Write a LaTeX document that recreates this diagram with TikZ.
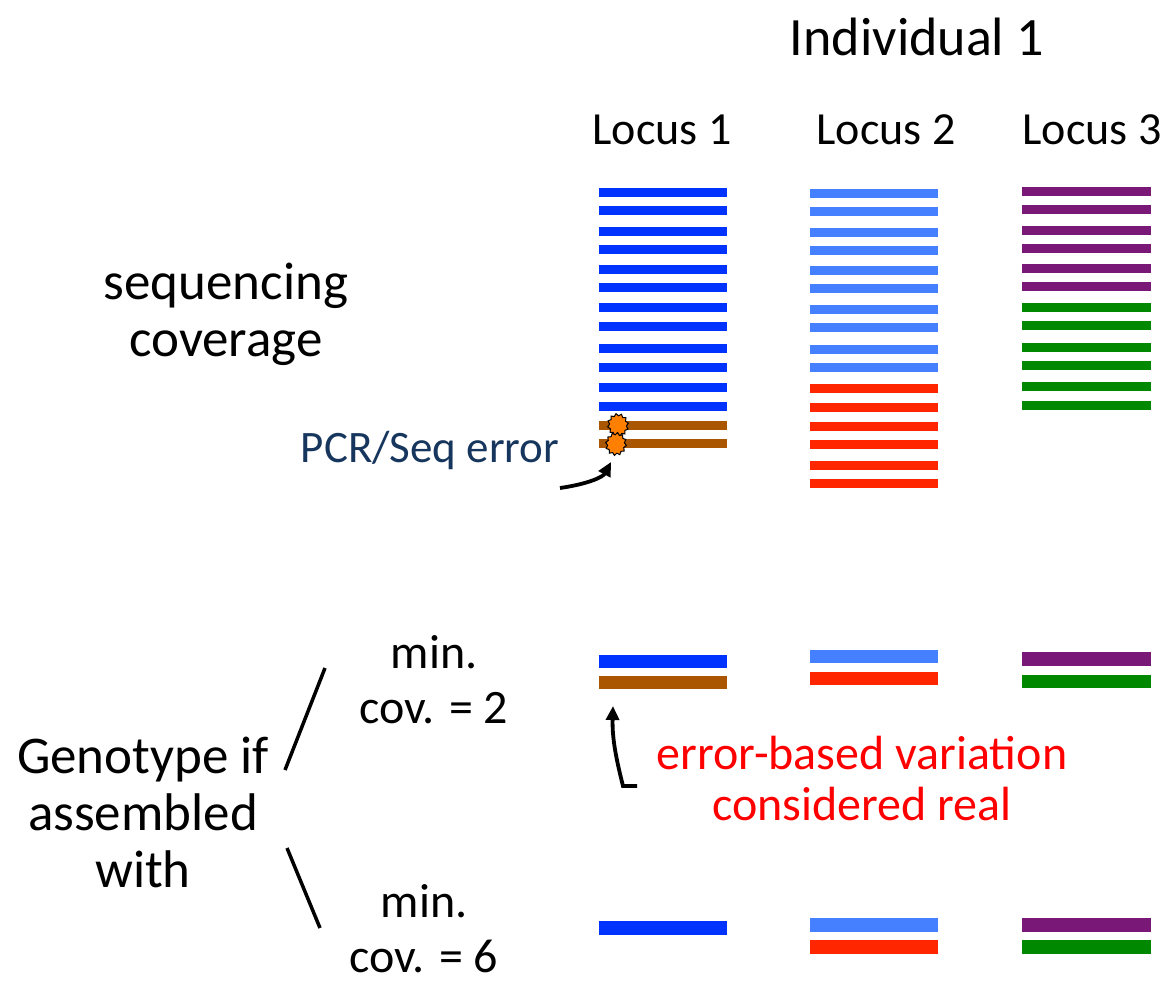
\documentclass[tikz,border=0pt]{standalone}
\usepackage{fontspec}
\setmainfont{Carlito}
\usetikzlibrary{shapes.geometric,arrows.meta}
\definecolor{cBlue}{RGB}{0,51,255}
\definecolor{cLight}{RGB}{68,128,255}
\definecolor{cRed}{RGB}{255,38,0}
\definecolor{cPurple}{RGB}{122,24,120}
\definecolor{cGreen}{RGB}{0,136,0}
\definecolor{cBrown}{RGB}{170,85,0}
\definecolor{cOrange}{RGB}{255,128,0}
\definecolor{cNavy}{RGB}{23,54,93}
\definecolor{cAlert}{RGB}{255,0,0}
\begin{document}
\begin{tikzpicture}[x=1pt,y=-1pt,
  readbar/.style={line width=9pt},
  genobar/.style={line width=13.5pt},
  lbl/.style={inner sep=0pt, align=center},
  bigtxt/.style={font=\fontsize{53}{57}\selectfont},
  titletxt/.style={font=\fontsize{54}{58}\selectfont},
  loctxt/.style={font=\fontsize{46}{50}\selectfont},
  covtxt/.style={font=\fontsize{48}{55}\selectfont},
  pcrtxt/.style={font=\fontsize{45}{48}\selectfont, text=cNavy},
  alerttxt/.style={font=\fontsize{48}{51}\selectfont, text=cAlert},
  blob/.style={star, star points=12, star point ratio=1.25, minimum size=21pt, inner sep=0pt,
    fill=cOrange, draw=black, line width=1pt},
  pointer/.style={line width=3.8pt, -{Triangle[length=14pt,width=13pt]}},
  stroke/.style={line width=3.5pt},
]
\useasboundingbox (0,0) rectangle (1169,985);

% titles
\node[lbl,titletxt] (indiv) at (917,37) {Individual 1};
\node[lbl,loctxt] (loc1) at (662,130) {Locus 1};
\node[lbl,loctxt] (loc2) at (886,130) {Locus 2};
\node[lbl,loctxt] (loc3) at (1092,130) {Locus 3};

% left labels
\node[lbl,bigtxt] (seqcov) at (226,314) {sequencing\\coverage};
\node[lbl,pcrtxt] (pcr) at (430,450) {PCR/Seq error};
\node[lbl,covtxt] (cov2) at (434,680) {min.\\cov. = 2};
\node[lbl,bigtxt] (geno) at (143,812) {Genotype if\\assembled\\with};
\node[lbl,covtxt] (cov6) at (424,929) {min.\\cov. = 6};
\node[lbl,alerttxt] (alert) at (862,778) {error-based variation\\considered real};

% reads, locus 1
\foreach \y in {192,210.3,231.3,249.7,269,287.3,307.7,326.3,348.7,367,387.7,406}
  \draw[readbar,cBlue] (598.5,\y) -- (726.5,\y);
\foreach \y in {425.3,443.3}
  \draw[readbar,cBrown] (598.5,\y) -- (726.5,\y);
% reads, locus 2
\foreach \y in {193,211.3,232.3,250.7,270,288.3,309.3,327.3,349.3,367.7}
  \draw[readbar,cLight] (810,\y) -- (938,\y);
\foreach \y in {388.7,407,426,444.3,465.3,483.7}
  \draw[readbar,cRed] (810,\y) -- (938,\y);
% reads, locus 3
\foreach \y in {191,209.3,230.3,248.7,268,286.3}
  \draw[readbar,cPurple] (1022,\y) -- (1151,\y);
\foreach \y in {307,325.3,347.3,365.7,386.7,405}
  \draw[readbar,cGreen] (1022,\y) -- (1151,\y);

% error blobs
\node[blob,rotate=10,yscale=1.1] (err1) at (618,425) {};
\node[blob,rotate=-8,yscale=1.1] (err2) at (616,444) {};

% genotypes, min cov 2
\draw[genobar,cBlue] (598.5,661.5) -- (726.5,661.5);
\draw[genobar,cBrown] (598.5,682.5) -- (726.5,682.5);
\draw[genobar,cLight] (810,656.5) -- (938,656.5);
\draw[genobar,cRed] (810,678.5) -- (938,678.5);
\draw[genobar,cPurple] (1022,659) -- (1151,659);
\draw[genobar,cGreen] (1022,681.5) -- (1151,681.5);

% genotypes, min cov 6
\draw[genobar,cBlue] (598.5,928) -- (726.5,928);
\draw[genobar,cLight] (810,925) -- (938,925);
\draw[genobar,cRed] (810,947) -- (938,947);
\draw[genobar,cPurple] (1022,925) -- (1151,925);
\draw[genobar,cGreen] (1022,947) -- (1151,947);

% arrows
\coordinate (pcrtail) at (560,488);
\coordinate (pcrtip) at (611,462);
\draw[pointer] (pcrtail) .. controls (588,484) and (603,477) .. (pcrtip);

\coordinate (alerttail) at (637,786);
\coordinate (alertbend) at (623,786);
\coordinate (alerttip) at (613,706);
\draw[pointer] (alerttail) -- (alertbend) .. controls (617,762) and (612,740) .. (alerttip);

% branch strokes
\coordinate (up1) at (325,668);
\coordinate (up2) at (285,770);
\coordinate (dn1) at (287,848);
\coordinate (dn2) at (320,928);
\draw[stroke] (up1) -- (up2);
\draw[stroke] (dn1) -- (dn2);
\end{tikzpicture}
\end{document}
